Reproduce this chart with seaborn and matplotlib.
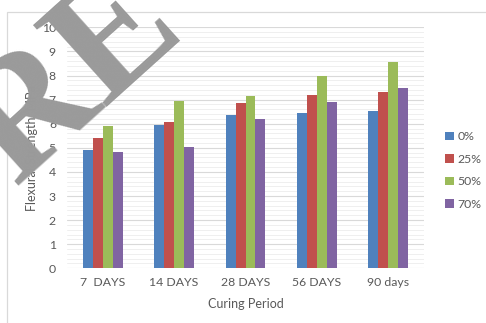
import matplotlib
matplotlib.use("Agg")
import matplotlib.pyplot as plt
from matplotlib.patches import Rectangle, Patch
from matplotlib.ticker import MultipleLocator
import pandas as pd
import seaborn as sns

# Flexural strength (MPa) by curing period and replacement level
periods = ["7  DAYS", "14 DAYS", "28 DAYS", "56 DAYS", "90 days"]
levels = ["0%", "25%", "50%", "70%"]
strength_0 = [4.91, 5.94, 6.35, 6.43, 6.53]
strength_25 = [5.39, 6.07, 6.85, 7.18, 7.33]
strength_50 = [5.92, 6.93, 7.15, 7.98, 8.56]
strength_70 = [4.82, 5.02, 6.18, 6.89, 7.49]
colors = ["#4F81BD", "#C0504D", "#9BBB59", "#8064A2"]

rows = []
for lvl, vals in zip(levels, [strength_0, strength_25, strength_50, strength_70]):
    for p, v in zip(periods, vals):
        rows.append({"period": p, "level": lvl, "strength": v})
df = pd.DataFrame(rows)

sns.set_theme(style="white")
plt.rcParams["font.family"] = ["Lato", "DejaVu Sans"]

W, H = 486, 323
fig = plt.figure(figsize=(W / 100, H / 100), dpi=100)
fig.patch.set_facecolor("white")

# chart frame
fig.add_artist(Rectangle((7 / W, -0.1), 1.2, 1 - 12 / H + 0.1, transform=fig.transFigure,
                         fill=False, edgecolor="#d9d9d9", linewidth=0.9, zorder=0))

ax = fig.add_axes([67 / W, 1 - 268.3 / H, (424 - 67) / W, (268.3 - 27.3) / H])
sns.barplot(data=df, x="period", y="strength", hue="level", order=periods,
            hue_order=levels, palette=colors, width=0.56, gap=0,
            saturation=1, linewidth=0, ax=ax, legend=False, zorder=3)

ax.set_ylim(0, 10)
ax.set_xlim(-0.5, len(periods) - 0.5)
ax.yaxis.set_major_locator(MultipleLocator(1))
ax.yaxis.set_minor_locator(MultipleLocator(0.2))
ax.grid(axis="y", which="major", color="#d9d9d9", linewidth=0.8, zorder=0)
ax.grid(axis="y", which="minor", color="#efefef", linewidth=0.7, zorder=0)
ax.set_axisbelow(True)
for s in ax.spines.values():
    s.set_visible(False)
ax.tick_params(axis="both", which="both", length=0, labelsize=8.8, colors="#595959")
ax.tick_params(axis="y", pad=8)
ax.tick_params(axis="x", pad=6)

ax.set_xlabel("Curing Period", fontsize=9, color="#595959")
ax.set_ylabel("Flexural Strength, MPa", fontsize=9, color="#595959")
ax.xaxis.set_label_coords(0.5, -0.125)
ax.yaxis.set_label_coords(-0.08, 0.5)

handles = [Patch(facecolor=c, edgecolor="none") for c in colors]
fig.legend(handles, levels, loc="center left", bbox_to_anchor=(434 / W, 1 - 170.5 / H),
           frameon=False, handlelength=0.7, handleheight=0.7, handletextpad=0.3,
           labelspacing=0.95, fontsize=8.8, labelcolor="#595959")

# diagonal stamp over the upper-left corner
fig.text(74 / W, 1 - 80 / H, "RE", rotation=42, rotation_mode="anchor",
         ha="center", va="center", fontsize=120, fontweight="bold",
         fontfamily="Liberation Serif", color="#9a9a9a", zorder=10)

fig.savefig("out.png", dpi=100, facecolor="white")
